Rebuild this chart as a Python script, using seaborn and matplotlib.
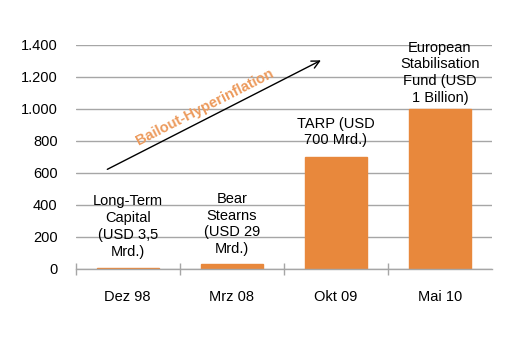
import matplotlib
matplotlib.use("Agg")
import matplotlib.pyplot as plt
import seaborn as sns
import pandas as pd
from matplotlib.ticker import FuncFormatter, FixedLocator

categories = ["Dez 98", "Mrz 08", "Okt 09", "Mai 10"]
values = [3.5, 29, 700, 1000]
bar_labels = [
    "Long-Term\nCapital\n(USD 3,5\nMrd.)",
    "Bear\nStearns\n(USD 29\nMrd.)",
    "TARP (USD\n700 Mrd.)",
    "European\nStabilisation\nFund (USD\n1 Billion)",
]
y_ticks = [0, 200, 400, 600, 800, 1000, 1200, 1400]
arrow_text = "Bailout-Hyperinflation"

sns.set_theme(style="white")
plt.rcParams["font.family"] = ["Liberation Sans", "DejaVu Sans"]

orange = "#E8883C"
grid_c = "#A6A6A6"

fig = plt.figure(figsize=(5.32, 3.52), dpi=100)
ax = fig.add_axes([75.7 / 532, (352 - 269) / 352, (492 - 75.7) / 532, (269 - 45) / 352])

df = pd.DataFrame({"cat": categories, "val": values})
sns.barplot(data=df, x="cat", y="val", color=orange, saturation=1, width=0.6, ax=ax,
            edgecolor=orange, linewidth=1.0)

ax.set_xlim(-0.5, 3.5)
ax.set_ylim(0, 1400)
ax.set_yticks(y_ticks)
ax.yaxis.set_major_formatter(FuncFormatter(lambda v, p: f"{int(v):,}".replace(",", ".")))
ax.set_xlabel("")
ax.set_ylabel("")

for s in ["top", "right", "left"]:
    ax.spines[s].set_visible(False)
ax.spines["bottom"].set_color(grid_c)
ax.spines["bottom"].set_linewidth(1)

ax.grid(axis="y", color=grid_c, linewidth=1)
ax.set_axisbelow(True)

ax.tick_params(axis="y", length=0, pad=13, labelsize=10.5, labelcolor="#000000")
ax.tick_params(axis="x", which="major", length=0, pad=15, labelsize=10.5, labelcolor="#000000")
ax.xaxis.set_minor_locator(FixedLocator([-0.5, 0.5, 1.5, 2.5]))
ax.tick_params(axis="x", which="minor", direction="inout", length=8, width=1, color=grid_c, bottom=True)

offsets = [7, 6, 7, 3]
for i, (lab, v) in enumerate(zip(bar_labels, values)):
    ax.annotate(lab, xy=(i, v), xytext=(0, offsets[i]), textcoords="offset points",
                ha="center", va="bottom", fontsize=10.5, color="#000000", linespacing=1.25)

ax.annotate("", xy=(1.88, 1312), xytext=(-0.22, 615),
            arrowprops=dict(arrowstyle="->", color="#000000", lw=1, mutation_scale=14),
            annotation_clip=False)
ax.text(0.74, 1010, arrow_text, rotation=27, ha="center", va="center",
        fontsize=10.5, fontweight="bold", color="#EC9A5C",
        rotation_mode="anchor")

fig.savefig("out.png", dpi=100)
